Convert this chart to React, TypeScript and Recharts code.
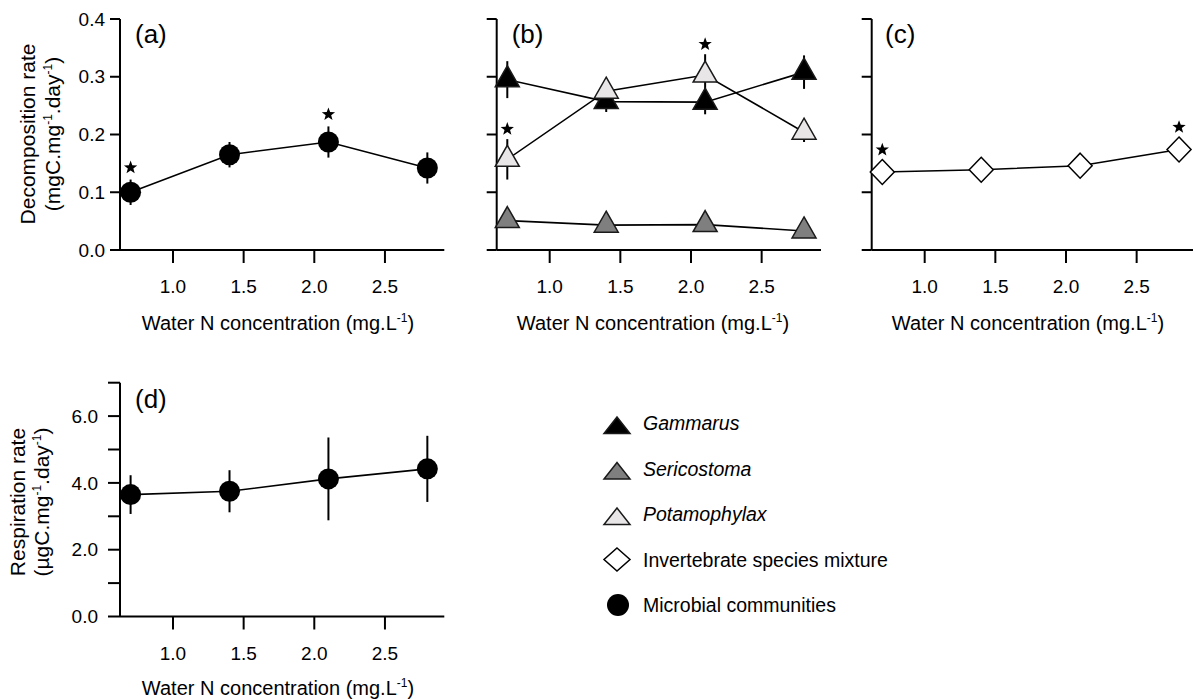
import React from "react";
import { ErrorBar, Line, LineChart, XAxis, YAxis } from "recharts";

// water N concentration levels (mg/L)
const nConc = [0.7, 1.4, 2.1, 2.8];
const xTicks = [1.0, 1.5, 2.0, 2.5];
const decompTicks = [0.0, 0.1, 0.2, 0.3, 0.4];
const respTicks = [0, 1, 2, 3, 4, 5, 6, 7];
const respTickLabels = ["0.0", "", "2.0", "", "4.0", "", "6.0", ""];

// (a) microbial decomposition rate
const microbialDecomp = [0.1, 0.165, 0.187, 0.142];
const microbialDecompErr = [0.022, 0.022, 0.027, 0.027];
const microbialDecompSig = [true, false, true, false];

// (b) single invertebrate species
const gammarus = [0.295, 0.257, 0.256, 0.308];
const gammarusErr = [0.032, 0.018, 0.021, 0.029];
const sericostoma = [0.051, 0.043, 0.044, 0.033];
const sericostomaErr = [0.006, 0.005, 0.005, 0.006];
const potamophylax = [0.157, 0.275, 0.303, 0.204];
const potamophylaxErr = [0.035, 0.012, 0.036, 0.017];
const potamophylaxSig = [true, false, true, false];

// (c) invertebrate species mixture
const mixture = [0.135, 0.139, 0.146, 0.174];
const mixtureErr = [0.004, 0.004, 0.004, 0.004];
const mixtureSig = [true, false, false, true];

// (d) microbial respiration rate
const respiration = [3.65, 3.75, 4.12, 4.42];
const respirationErr = [0.58, 0.63, 1.24, 0.99];

const FONT = "'Liberation Sans', Arial, Helvetica, sans-serif";
const AXIS = { stroke: "#000", strokeWidth: 2 };
const GAMMARUS_FILL = "#000000";
const SERICOSTOMA_FILL = "#7f7f7f";
const POTAMOPHYLAX_FILL = "#e8e6e6";

const single = (y: number[], err: number[], sig?: boolean[]) =>
  nConc.map((x, i) => ({
    x,
    y: y[i],
    err: err[i],
    star: sig && sig[i] ? y[i] + err[i] : null,
  }));

const panelA = single(microbialDecomp, microbialDecompErr, microbialDecompSig);
const panelC = single(mixture, mixtureErr, mixtureSig);
const panelD = single(respiration, respirationErr);
const panelB = nConc.map((x, i) => ({
  x,
  gam: gammarus[i],
  gamErr: gammarusErr[i],
  ser: sericostoma[i],
  serErr: sericostomaErr[i],
  pot: potamophylax[i],
  potErr: potamophylaxErr[i],
  potStar: potamophylaxSig[i] ? potamophylax[i] + potamophylaxErr[i] : null,
}));

const trianglePoints = (cx: number, cy: number, w: number, h: number) =>
  `${cx},${cy - (2 * h) / 3} ${cx + w / 2},${cy + h / 3} ${cx - w / 2},${cy + h / 3}`;

const starPath = (cx: number, cy: number, R: number, r: number) => {
  const pts: string[] = [];
  for (let k = 0; k < 10; k++) {
    const rad = k % 2 === 0 ? R : r;
    const a = -Math.PI / 2 + (k * Math.PI) / 5;
    pts.push(`${cx + rad * Math.cos(a)},${cy + rad * Math.sin(a)}`);
  }
  return `M${pts.join("L")}Z`;
};

const circleDot = (props: any) => {
  const { cx, cy, index } = props;
  if (cx == null || cy == null) return <g key={`c${index}`} />;
  return <circle key={`c${index}`} cx={cx} cy={cy} r={10.5} fill="#000" />;
};

const triangleDot = (fill: string) => (props: any) => {
  const { cx, cy, index } = props;
  if (cx == null || cy == null) return <g key={`t${index}`} />;
  return (
    <polygon
      key={`t${index}`}
      points={trianglePoints(cx, cy, 24, 21)}
      fill={fill}
      stroke="#1a1a1a"
      strokeWidth={1.5}
    />
  );
};

const diamondDot = (props: any) => {
  const { cx, cy, index } = props;
  if (cx == null || cy == null) return <g key={`d${index}`} />;
  return (
    <polygon
      key={`d${index}`}
      points={`${cx},${cy - 12.5} ${cx + 12},${cy} ${cx},${cy + 12.5} ${cx - 12},${cy}`}
      fill="#fff"
      stroke="#000"
      strokeWidth={1.5}
    />
  );
};

const starDot = (gap: number) => (props: any) => {
  const { cx, cy, index, value } = props;
  if (cx == null || cy == null || value == null) return <g key={`s${index}`} />;
  return <path key={`s${index}`} d={starPath(cx, cy - gap, 7, 2.9)} fill="#000" />;
};

// tick marks without labels (panels b and c share the y scale of panel a)
const noTickLabel = (props: any) => <g key={`nt${props.index}`} />;

type Plot = { l: number; t: number; r: number; b: number };

type PanelProps = {
  left: number;
  top: number;
  width: number;
  height: number;
  plot: Plot;
  data: any[];
  yDomain: [number, number];
  yTicks: number[];
  yFormat?: (v: number) => string;
  yTickSize: number;
  yTickMargin: number;
  overlay: React.ReactNode;
  children: React.ReactNode;
};

const Panel = ({
  left,
  top,
  width,
  height,
  plot,
  data,
  yDomain,
  yTicks,
  yFormat,
  yTickSize,
  yTickMargin,
  overlay,
  children,
}: PanelProps) => {
  const yAxisWidth = 30;
  const xAxisHeight = 40;
  return (
    <div style={{ position: "absolute", left, top, width, height }}>
      <LineChart
        width={width}
        height={height}
        data={data}
        margin={{
          top: plot.t,
          right: width - plot.r,
          bottom: height - plot.b - xAxisHeight,
          left: plot.l - yAxisWidth,
        }}
      >
        <XAxis
          type="number"
          dataKey="x"
          domain={[0.625, 2.92]}
          ticks={xTicks}
          interval={0}
          tickFormatter={(v: number) => v.toFixed(1)}
          axisLine={AXIS}
          tickLine={AXIS}
          tickSize={13}
          tickMargin={17}
          height={xAxisHeight}
          tick={{ fill: "#000", fontSize: 19, fontFamily: FONT }}
        />
        <YAxis
          type="number"
          domain={yDomain}
          ticks={yTicks}
          interval={0}
          tickFormatter={yFormat}
          axisLine={AXIS}
          tickLine={AXIS}
          tickSize={yTickSize}
          tickMargin={yTickMargin}
          width={yAxisWidth}
          tick={yFormat ? { fill: "#000", fontSize: 19, fontFamily: FONT } : noTickLabel}
        />
        {children}
      </LineChart>
      <svg
        width={width}
        height={height}
        style={{ position: "absolute", left: 0, top: 0, pointerEvents: "none" }}
        fontFamily={FONT}
        fill="#000"
      >
        {overlay}
      </svg>
    </div>
  );
};

// segments starting with "^" are drawn as superscripts
const richText = (parts: string[]) => {
  let raised = false;
  return parts.map((p, i) => {
    const sup = p.startsWith("^");
    const dy = sup && !raised ? -8 : !sup && raised ? 8 : 0;
    raised = sup;
    return (
      <tspan key={i} dy={dy} fontSize={sup ? 12 : undefined}>
        {sup ? p.slice(1) : p}
      </tspan>
    );
  });
};

const XTitle = ({ cx, y }: { cx: number; y: number }) => (
  <text x={cx} y={y} textAnchor="middle" fontSize={20}>
    {richText(["Water N concentration (mg.L", "^-1", ")"])}
  </text>
);

const Letter = ({ x, y, t }: { x: number; y: number; t: string }) => (
  <text x={x} y={y} fontSize={26}>
    {t}
  </text>
);

const YTitle = ({
  x1,
  x2,
  cy,
  first,
  unit,
}: {
  x1: number;
  x2: number;
  cy: number;
  first: string;
  unit: string;
}) => (
  <>
    <text transform={`translate(${x1},${cy}) rotate(-90)`} textAnchor="middle" fontSize={21}>
      {first}
    </text>
    <text transform={`translate(${x2},${cy}) rotate(-90)`} textAnchor="middle" fontSize={21}>
      {richText([`(${unit}.mg`, "^-1", ".day", "^-1", ")"])}
    </text>
  </>
);

const decompFmt = (v: number) => v.toFixed(1);
const respFmt = (v: number) => respTickLabels[respTicks.indexOf(v)] ?? "";

const legendRows = [
  { label: "Gammarus", italic: true, kind: "tri", fill: GAMMARUS_FILL },
  { label: "Sericostoma", italic: true, kind: "tri", fill: SERICOSTOMA_FILL },
  { label: "Potamophylax", italic: true, kind: "tri", fill: POTAMOPHYLAX_FILL },
  { label: "Invertebrate species mixture", italic: false, kind: "dia", fill: "#fff" },
  { label: "Microbial communities", italic: false, kind: "dot", fill: "#000" },
];

const LegendBox = () => (
  <svg
    width={330}
    height={240}
    style={{ position: "absolute", left: 590, top: 395 }}
    fontFamily={FONT}
  >
    {legendRows.map((r, i) => {
      const base = 35 + i * 45.5;
      const cy = base - 7;
      let mark: React.ReactNode;
      if (r.kind === "tri") {
        mark = (
          <polygon
            points={`27,${base - 13} 40,${base + 3.5} 14,${base + 3.5}`}
            fill={r.fill}
            stroke="#1a1a1a"
            strokeWidth={1.5}
          />
        );
      } else if (r.kind === "dia") {
        mark = (
          <polygon
            points={`27,${cy - 11.5} 40,${cy} 27,${cy + 11.5} 14,${cy}`}
            fill="#fff"
            stroke="#000"
            strokeWidth={1.5}
          />
        );
      } else {
        mark = <circle cx={28} cy={cy} r={11} fill="#000" />;
      }
      return (
        <g key={r.label}>
          {mark}
          <text x={53} y={base} fontSize={19.5} fontStyle={r.italic ? "italic" : "normal"} fill="#000">
            {r.label}
          </text>
        </g>
      );
    })}
  </svg>
);

export default function App() {
  return (
    <div
      style={{
        position: "absolute",
        left: 0,
        top: 0,
        width: 1193,
        height: 699,
        overflow: "hidden",
        background: "#fff",
      }}
    >
      {/* (a) microbial decomposition */}
      <Panel
        left={0}
        top={0}
        width={460}
        height={345}
        plot={{ l: 120, t: 19, r: 444.3, b: 250 }}
        data={panelA}
        yDomain={[0, 0.4]}
        yTicks={decompTicks}
        yFormat={decompFmt}
        yTickSize={10}
        yTickMargin={5}
        overlay={
          <>
            <Letter x={135} y={43} t="(a)" />
            <YTitle x1={35} x2={60} cy={134} first="Decomposition rate" unit="mgC" />
            <XTitle cx={278} y={330} />
          </>
        }
      >
        <Line dataKey="y" stroke="#000" strokeWidth={1.6} dot={circleDot} activeDot={false} isAnimationActive={false}>
          <ErrorBar dataKey="err" width={0} stroke="#000" strokeWidth={2} direction="y" />
        </Line>
        <Line dataKey="star" stroke="none" dot={starDot(12)} activeDot={false} isAnimationActive={false} />
      </Panel>

      {/* (b) single species */}
      <Panel
        left={460}
        top={0}
        width={375}
        height={345}
        plot={{ l: 36.7, t: 19, r: 361, b: 250 }}
        data={panelB}
        yDomain={[0, 0.4]}
        yTicks={decompTicks}
        yTickSize={10}
        yTickMargin={5}
        overlay={
          <>
            <Letter x={51.7} y={43} t="(b)" />
            <XTitle cx={193} y={330} />
          </>
        }
      >
        <Line dataKey="gam" stroke="#000" strokeWidth={1.6} dot={triangleDot(GAMMARUS_FILL)} activeDot={false} isAnimationActive={false}>
          <ErrorBar dataKey="gamErr" width={0} stroke="#000" strokeWidth={2} direction="y" />
        </Line>
        <Line dataKey="ser" stroke="#000" strokeWidth={1.6} dot={triangleDot(SERICOSTOMA_FILL)} activeDot={false} isAnimationActive={false}>
          <ErrorBar dataKey="serErr" width={0} stroke="#000" strokeWidth={2} direction="y" />
        </Line>
        <Line dataKey="pot" stroke="#000" strokeWidth={1.6} dot={triangleDot(POTAMOPHYLAX_FILL)} activeDot={false} isAnimationActive={false}>
          <ErrorBar dataKey="potErr" width={0} stroke="#000" strokeWidth={2} direction="y" />
        </Line>
        <Line dataKey="potStar" stroke="none" dot={starDot(10)} activeDot={false} isAnimationActive={false} />
      </Panel>

      {/* (c) species mixture */}
      <Panel
        left={835}
        top={0}
        width={370}
        height={345}
        plot={{ l: 36.7, t: 19, r: 361, b: 250 }}
        data={panelC}
        yDomain={[0, 0.4]}
        yTicks={decompTicks}
        yTickSize={10}
        yTickMargin={5}
        overlay={
          <>
            <Letter x={50} y={43} t="(c)" />
            <XTitle cx={193} y={330} />
          </>
        }
      >
        <Line dataKey="y" stroke="#000" strokeWidth={1.6} dot={diamondDot} activeDot={false} isAnimationActive={false}>
          <ErrorBar dataKey="err" width={0} stroke="#000" strokeWidth={2} direction="y" />
        </Line>
        <Line dataKey="star" stroke="none" dot={starDot(20)} activeDot={false} isAnimationActive={false} />
      </Panel>

      {/* (d) respiration */}
      <Panel
        left={0}
        top={360}
        width={460}
        height={339}
        plot={{ l: 120, t: 22.7, r: 444.3, b: 256.5 }}
        data={panelD}
        yDomain={[0, 7]}
        yTicks={respTicks}
        yFormat={respFmt}
        yTickSize={12}
        yTickMargin={10}
        overlay={
          <>
            <Letter x={135} y={47.5} t="(d)" />
            <YTitle x1={25} x2={49} cy={142} first="Respiration rate" unit={"\u00b5gC"} />
            <XTitle cx={278} y={335} />
          </>
        }
      >
        <Line dataKey="y" stroke="#000" strokeWidth={1.6} dot={circleDot} activeDot={false} isAnimationActive={false}>
          <ErrorBar dataKey="err" width={0} stroke="#000" strokeWidth={2} direction="y" />
        </Line>
      </Panel>

      <LegendBox />
    </div>
  );
}
